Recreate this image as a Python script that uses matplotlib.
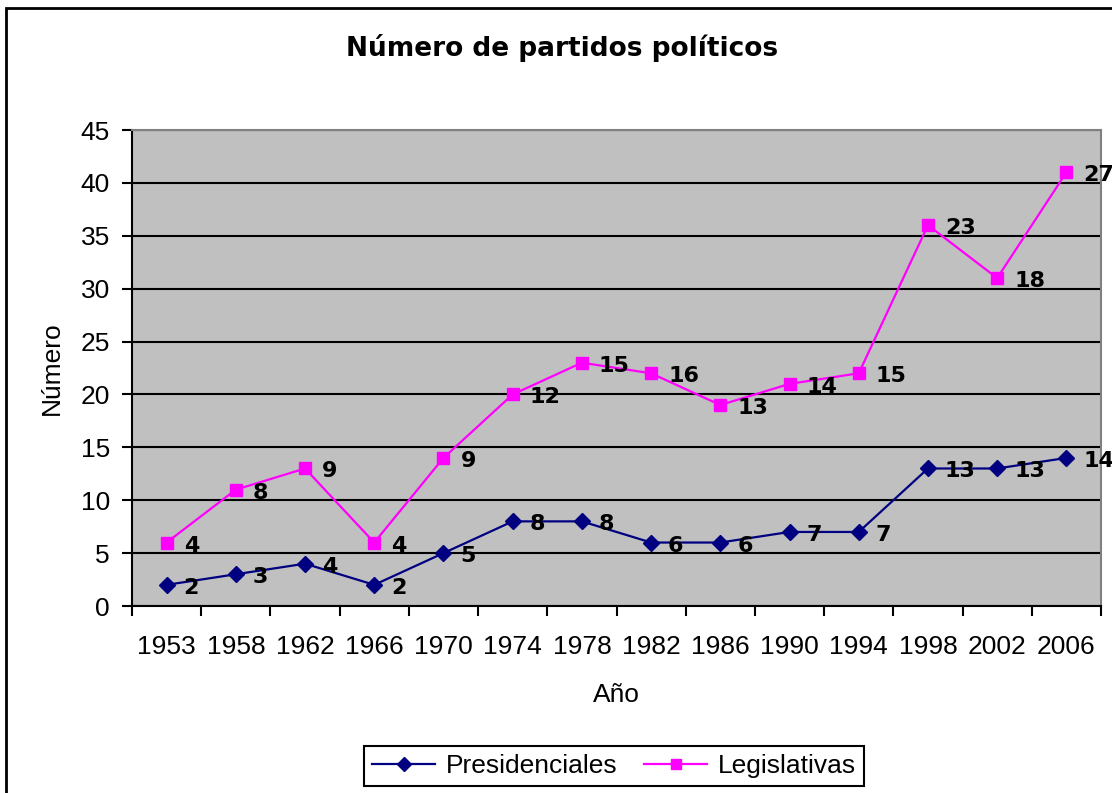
import matplotlib
matplotlib.use('Agg')
import matplotlib.pyplot as plt
import numpy as np
from matplotlib.patches import Rectangle
from matplotlib.lines import Line2D

# data (Excel stacked line: legislativas drawn on top of presidenciales)
years = ['1953', '1958', '1962', '1966', '1970', '1974', '1978',
         '1982', '1986', '1990', '1994', '1998', '2002', '2006']
presidenciales = [2, 3, 4, 2, 5, 8, 8, 6, 6, 7, 7, 13, 13, 14]
legislativas = [4, 8, 9, 4, 9, 12, 15, 16, 13, 14, 15, 23, 18, 27]

NAVY = '#000080'
PINK = '#FF00FF'

plt.rcParams['font.family'] = ['Liberation Sans', 'DejaVu Sans']

W, H = 1112, 793
fig = plt.figure(figsize=(W / 100, H / 100), dpi=100)
ax = fig.add_axes([132 / W, 1 - 606 / H, (1101 - 132) / W, (606 - 130) / H])
ax.set_facecolor('#C0C0C0')

x = np.arange(len(years))
pres = np.array(presidenciales)
legis_top = pres + np.array(legislativas)

ax.plot(x, pres, color=NAVY, lw=1.6, marker='D', ms=8, mfc=NAVY, mec=NAVY,
        label='Presidenciales', zorder=3)
ax.plot(x, legis_top, color=PINK, lw=1.6, marker='s', ms=8, mfc=PINK, mec=PINK,
        label='Legislativas', zorder=3)

# value labels, right of each marker (last ones run off the edge as in the original)
for xi, yi, v in zip(x, pres, presidenciales):
    ax.annotate(str(v), (xi, yi), xytext=(17, -3), textcoords='offset pixels',
                ha='left', va='center', fontsize=16, fontweight='bold',
                family='DejaVu Sans', annotation_clip=False, zorder=4)
for xi, yi, v in zip(x, legis_top, legislativas):
    ax.annotate(str(v), (xi, yi), xytext=(17, -3), textcoords='offset pixels',
                ha='left', va='center', fontsize=16, fontweight='bold',
                family='DejaVu Sans', annotation_clip=False, zorder=4)

ax.set_xlim(-0.5, len(years) - 0.5)
ax.set_ylim(0, 45)
ax.set_yticks(np.arange(0, 46, 5))
ax.yaxis.grid(True, color='black', lw=1.5)
ax.set_axisbelow(True)

ax.set_xticks(x)
ax.set_xticklabels(years)
ax.set_xticks(np.arange(-0.5, len(years), 1), minor=True)
ax.tick_params(axis='x', which='major', length=0, pad=21, labelsize=19)
ax.tick_params(axis='x', which='minor', length=7, width=1.5, direction='out')
ax.tick_params(axis='y', length=7, width=1.5, direction='out', pad=9, labelsize=19)

for side in ['top', 'right']:
    ax.spines[side].set_color('#808080')
    ax.spines[side].set_linewidth(1.5)
for side in ['left', 'bottom']:
    ax.spines[side].set_color('black')
    ax.spines[side].set_linewidth(1.5)

ax.set_xlabel('Año', fontsize=19, labelpad=17)
ax.set_ylabel('Número', fontsize=19, labelpad=12)

fig.text(562 / W, 1 - 48 / H, 'Número de partidos políticos', ha='center', va='center',
         fontsize=19, fontweight='bold', family='DejaVu Sans')

handles = [Line2D([], [], color=NAVY, lw=1.6, marker='D', ms=7, mfc=NAVY, mec=NAVY),
           Line2D([], [], color=PINK, lw=1.6, marker='s', ms=7, mfc=PINK, mec=PINK)]
leg = fig.legend(handles, ['Presidenciales', 'Legislativas'], loc='center',
                 bbox_to_anchor=(614 / W, 1 - 766 / H), ncol=2, fontsize=19,
                 frameon=True, fancybox=False, edgecolor='black', framealpha=1,
                 handlelength=2.4, columnspacing=1.0, handletextpad=0.4,
                 borderpad=0.3)
leg.get_frame().set_linewidth(1.5)

# outer chart frame
fig.patches.append(Rectangle((6 / W, -0.05), 1.1, 1 - 8 / H + 0.05, transform=fig.transFigure,
                             fill=False, edgecolor='black', lw=2))

fig.savefig('out.png', dpi=100)
